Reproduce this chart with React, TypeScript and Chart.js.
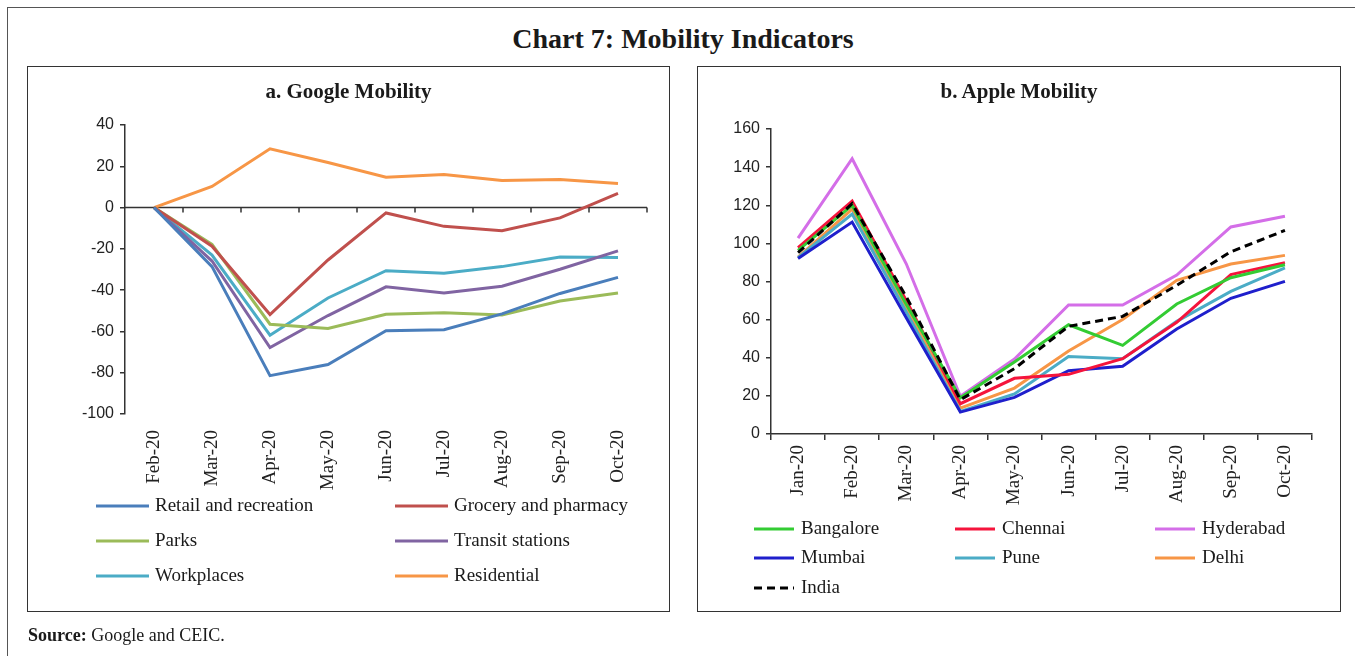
import React, { useEffect, useRef } from "react";
import { Chart, registerables } from "chart.js";

Chart.register(...registerables);

// ---------- Data ----------
const googleMonths = ["Feb-20", "Mar-20", "Apr-20", "May-20", "Jun-20", "Jul-20", "Aug-20", "Sep-20", "Oct-20"];
const retailRecreation = [0, -28.6, -81.4, -76, -59.7, -59.2, -51.5, -41.6, -33.8];
const groceryPharmacy = [0, -18.7, -51.8, -25.4, -2.6, -9.1, -11.2, -5, 6.9];
const parks = [0, -17.8, -56.5, -58.6, -51.7, -50.9, -52, -45.3, -41.4];
const transitStations = [0, -25.9, -67.8, -52.3, -38.4, -41.4, -38.1, -29.9, -21];
const workplaces = [0, -23, -61.8, -43.8, -30.6, -31.8, -28.6, -24, -24.2];
const residential = [0, 10.2, 28.5, 21.8, 14.7, 16, 13.1, 13.6, 11.7];
const googleYTicks = { min: -100, max: 40, step: 20 };

const appleMonths = ["Jan-20", "Feb-20", "Mar-20", "Apr-20", "May-20", "Jun-20", "Jul-20", "Aug-20", "Sep-20", "Oct-20"];
const bangalore = [96.3, 119.9, 68, 19, 37.8, 57.3, 46.5, 68.2, 82, 88.8];
const chennai = [97.7, 122.2, 70, 15.9, 29.2, 31.3, 39.5, 58.6, 83.6, 89.9];
const hyderabad = [102.8, 144.4, 89.3, 19.8, 39.3, 67.7, 67.7, 83.4, 108.6, 114.2];
const mumbai = [92.1, 111.2, 61, 11.5, 19.2, 33.2, 35.5, 55.1, 71.2, 80.1];
const pune = [92.5, 115.4, 64, 11.9, 21, 40.6, 39.5, 59.1, 74.8, 87.1];
const delhi = [92.8, 118, 66, 13.6, 24.1, 43.5, 60.1, 80.6, 89.2, 93.7];
const india = [95.1, 120.8, 72, 18, 34.3, 56.5, 61.7, 78, 95.6, 106.8];
const appleYTicks = { min: 0, max: 160, step: 20 };

// ---------- Styles ----------
const SERIF = "'Liberation Serif', serif";
const SANS = "'Liberation Sans', sans-serif";
const AXIS = "#333";

// Legend drawn on canvas in a grid
const legendGrid = {
  id: "legendGrid",
  afterDraw(chart: any, _args: any, opts: any) {
    const { ctx } = chart;
    chart.data.datasets.forEach((ds: any, i: number) => {
      const col = i % opts.cols;
      const row = Math.floor(i / opts.cols);
      const x0 = opts.x[col];
      const y = opts.y[row];
      ctx.save();
      ctx.strokeStyle = ds.borderColor;
      ctx.lineWidth = 3;
      ctx.setLineDash(ds.borderDash || []);
      ctx.beginPath();
      ctx.moveTo(x0, y);
      ctx.lineTo(x0 + opts.len, y);
      ctx.stroke();
      ctx.setLineDash([]);
      ctx.fillStyle = "#1a1a1a";
      ctx.font = opts.font;
      ctx.textBaseline = "middle";
      ctx.textAlign = "left";
      ctx.fillText(ds.label, x0 + opts.len + opts.gap, y);
      ctx.restore();
    });
  },
};

// Zero line with category tick marks (Google chart)
const zeroAxis = {
  id: "zeroAxis",
  beforeDatasetsDraw(chart: any) {
    const { ctx, chartArea } = chart;
    const x = chart.scales.x;
    const y = chart.scales.y;
    const y0 = y.getPixelForValue(0);
    const n = x.getLabels().length;
    const w = (chartArea.right - chartArea.left) / n;
    ctx.save();
    ctx.strokeStyle = AXIS;
    ctx.lineWidth = 1.5;
    ctx.beginPath();
    ctx.moveTo(chartArea.left, y0);
    ctx.lineTo(chartArea.right, y0);
    for (let k = 1; k <= n; k++) {
      const px = chartArea.left + k * w;
      ctx.moveTo(px, y0);
      ctx.lineTo(px, y0 + 5);
    }
    ctx.stroke();
    ctx.restore();
  },
};

function line(label: string, data: number[], color: string, extra: any = {}) {
  return {
    label,
    data,
    borderColor: color,
    backgroundColor: color,
    borderWidth: 3,
    pointRadius: 0,
    tension: 0,
    fill: false,
    ...extra,
  };
}

function yAxis(t: { min: number; max: number; step: number }, width: number) {
  return {
    min: t.min,
    max: t.max,
    afterFit: (s: any) => {
      s.width = width;
    },
    ticks: { stepSize: t.step, padding: 6, color: "#222", font: { family: SANS, size: 16 } },
    grid: { display: true, drawOnChartArea: false, drawTicks: true, tickLength: 5, color: AXIS, lineWidth: 1.5 },
    border: { display: true, color: AXIS, width: 1.5 },
  };
}

function googleConfig(): any {
  return {
    type: "line",
    data: {
      labels: googleMonths,
      datasets: [
        line("Retail and recreation", retailRecreation, "#4A7EBB"),
        line("Grocery and pharmacy", groceryPharmacy, "#C0504D"),
        line("Parks", parks, "#9BBB59"),
        line("Transit stations", transitStations, "#8064A2"),
        line("Workplaces", workplaces, "#4BACC6"),
        line("Residential", residential, "#F79646"),
      ],
    },
    options: {
      responsive: false,
      animation: false,
      devicePixelRatio: 1,
      layout: { padding: { top: 58, right: 22, bottom: 0, left: 0 } },
      plugins: {
        legend: { display: false },
        tooltip: { enabled: false },
        title: { display: false },
        legendGrid: {
          cols: 2,
          x: [68, 367],
          y: [439, 474, 509],
          len: 53,
          gap: 6,
          font: `19px ${SERIF}`,
        },
      },
      scales: {
        x: {
          type: "category",
          offset: true,
          afterFit: (s: any) => {
            s.height = 197;
          },
          grid: { display: false, drawTicks: false },
          border: { display: false },
          ticks: {
            minRotation: 90,
            maxRotation: 90,
            padding: 16,
            autoSkip: false,
            color: "#222",
            font: { family: SERIF, size: 19 },
          },
        },
        y: yAxis(googleYTicks, 97),
      },
    },
    plugins: [zeroAxis, legendGrid],
  };
}

function appleConfig(): any {
  return {
    type: "line",
    data: {
      labels: appleMonths,
      datasets: [
        line("Bangalore", bangalore, "#33CC33", { order: 1 }),
        line("Chennai", chennai, "#F5143C", { order: 1 }),
        line("Hyderabad", hyderabad, "#D46EE8", { order: 1 }),
        line("Mumbai", mumbai, "#1F1FCC", { order: 1 }),
        line("Pune", pune, "#4BACC6", { order: 1 }),
        line("Delhi", delhi, "#F79646", { order: 1 }),
        line("India", india, "#000000", { order: 0, borderDash: [8, 5] }),
      ],
    },
    options: {
      responsive: false,
      animation: false,
      devicePixelRatio: 1,
      layout: { padding: { top: 62, right: 28, bottom: 0, left: 0 } },
      plugins: {
        legend: { display: false },
        tooltip: { enabled: false },
        title: { display: false },
        legendGrid: {
          cols: 3,
          x: [56, 257, 457],
          y: [462, 491, 521],
          len: 40,
          gap: 7,
          font: `19px ${SERIF}`,
        },
      },
      scales: {
        x: {
          type: "category",
          offset: true,
          afterFit: (s: any) => {
            s.height = 177;
          },
          grid: {
            display: true,
            drawOnChartArea: false,
            drawTicks: true,
            tickLength: 6,
            offset: true,
            color: AXIS,
            lineWidth: 1.5,
          },
          border: { display: true, color: AXIS, width: 1.5 },
          ticks: {
            minRotation: 90,
            maxRotation: 90,
            padding: 5,
            autoSkip: false,
            color: "#222",
            font: { family: SERIF, size: 19 },
          },
        },
        y: yAxis(appleYTicks, 73),
      },
    },
    plugins: [legendGrid],
  };
}

function ChartCanvas(props: { make: () => any; left: number; top: number; width: number; height: number }) {
  const ref = useRef<HTMLCanvasElement | null>(null);
  useEffect(() => {
    const chart = new Chart(ref.current as HTMLCanvasElement, props.make());
    return () => chart.destroy();
  }, []);
  return (
    <canvas
      ref={ref}
      width={props.width}
      height={props.height}
      style={{
        position: "absolute",
        left: props.left,
        top: props.top,
        width: props.width,
        height: props.height,
        display: "block",
      }}
    />
  );
}

const abs = (l: number, t: number, w: number, h: number): React.CSSProperties => ({
  position: "absolute",
  left: l,
  top: t,
  width: w,
  height: h,
  boxSizing: "border-box",
});

export default function App() {
  return (
    <div
      style={{
        position: "absolute",
        left: 0,
        top: 0,
        width: 1355,
        height: 656,
        overflow: "hidden",
        background: "#fff",
        fontFamily: SERIF,
        color: "#1a1a1a",
      }}
    >
      {/* outer frame */}
      <div style={{ ...abs(7, 7, 1420, 720), borderLeft: "1.5px solid #555", borderTop: "1.5px solid #555" }} />
      {/* main title */}
      <div
        style={{
          ...abs(383, 22, 600, 34),
          textAlign: "center",
          fontWeight: "bold",
          fontSize: 28,
          lineHeight: "34px",
        }}
      >
        Chart 7: Mobility Indicators
      </div>

      {/* Panel a */}
      <ChartCanvas make={googleConfig} left={28} top={67} width={641} height={544} />
      <div style={{ ...abs(27, 66, 643, 546), border: "1.5px solid #333" }} />
      <div
        style={{
          ...abs(27, 78, 643, 26),
          textAlign: "center",
          fontWeight: "bold",
          fontSize: 21,
          lineHeight: "26px",
        }}
      >
        a. Google Mobility
      </div>

      {/* Panel b */}
      <ChartCanvas make={appleConfig} left={698} top={67} width={642} height={544} />
      <div style={{ ...abs(697, 66, 644, 546), border: "1.5px solid #333" }} />
      <div
        style={{
          ...abs(697, 78, 644, 26),
          textAlign: "center",
          fontWeight: "bold",
          fontSize: 21,
          lineHeight: "26px",
        }}
      >
        b. Apple Mobility
      </div>

      {/* Source */}
      <div style={{ ...abs(28, 623, 600, 24), fontSize: 18, lineHeight: "24px", whiteSpace: "nowrap" }}>
        <b>Source:</b> Google and CEIC.
      </div>
    </div>
  );
}
